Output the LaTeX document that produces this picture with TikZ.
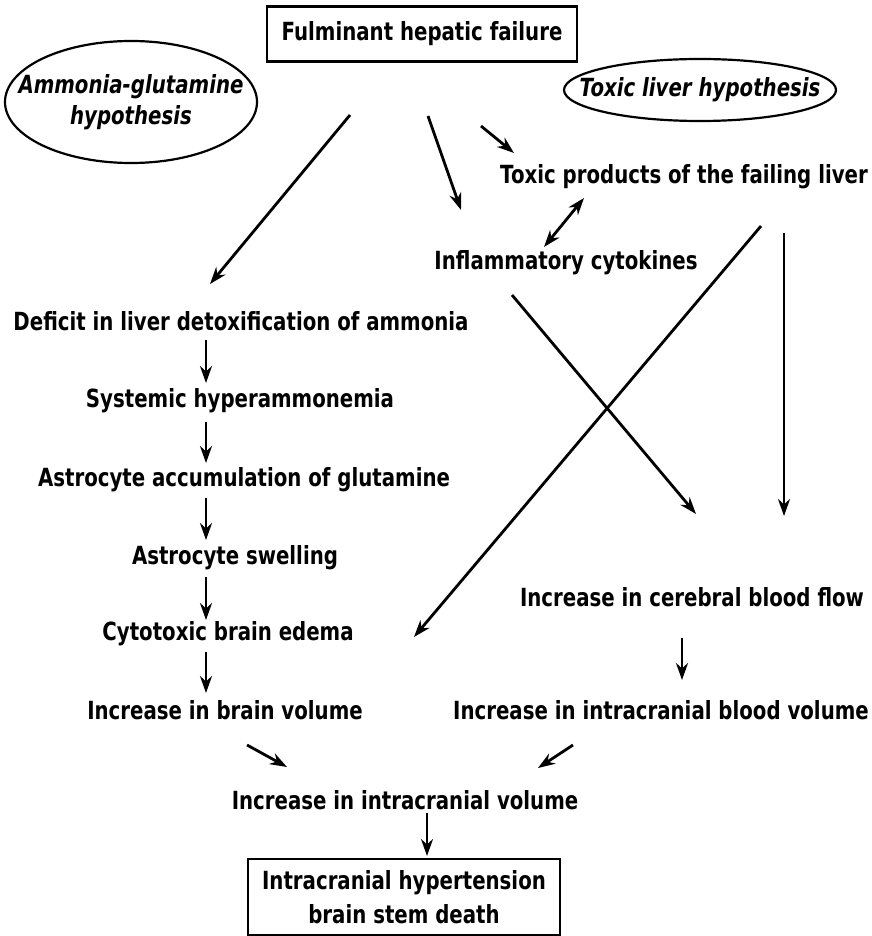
\documentclass[tikz,border=0pt]{standalone}
\usepackage{fontspec}
\setmainfont{DejaVu Sans}[FakeStretch=0.79]
\newfontfamily\hypfont{DejaVu Sans}[FakeStretch=0.79]
\usetikzlibrary{arrows.meta,shapes.geometric}
\begin{document}
\begin{tikzpicture}[x=1pt,y=-1pt,
  lbl/.style={font=\fontsize{25}{34}\selectfont\bfseries, inner sep=0pt},
  boxed/.style={lbl, draw, line width=2.6pt, align=center},
  hyp/.style={font=\hypfont\fontsize{25}{31}\selectfont\bfseries\itshape, inner sep=0pt, align=center},
  oval/.style={line width=2.2pt},
  arr/.style={line width=2.8pt, -{Stealth[length=17pt,width=12pt]}},
  darr/.style={line width=2.8pt, {Stealth[length=17pt,width=12pt]}-{Stealth[length=17pt,width=12pt]}}]
\useasboundingbox (0,0) rectangle (871,936);

\node[boxed, minimum width=310pt, minimum height=55pt] (fhf) at (422,34) {Fulminant hepatic failure};
\node[hyp] (amh) at (131,102) {Ammonia-glutamine\\hypothesis};
\draw[oval] (amh.center) ellipse [x radius=126, y radius=61];
\node[hyp] (tlh) at (700,90) {Toxic liver hypothesis};
\draw[oval] (tlh.center) ellipse [x radius=136, y radius=31];

\node[lbl] (tox) at (684,177) {Toxic products of the failing liver};
\node[lbl] (infl) at (566,263) {Inflammatory cytokines};
\node[lbl] (deficit) at (241,321) {Deficit in liver detoxification of ammonia};
\node[lbl] (systemic) at (240,401) {Systemic hyperammonemia};
\node[lbl] (accum) at (244,480) {Astrocyte accumulation of glutamine};
\node[lbl] (swell) at (235,558) {Astrocyte swelling};
\node[lbl] (cyto) at (228,634) {Cytotoxic brain edema};
\node[lbl] (brainvol) at (225,710) {Increase in brain volume};
\node[lbl] (cbf) at (692,597) {Increase in cerebral blood flow};
\node[lbl] (icbv) at (661,710) {Increase in intracranial blood volume};
\node[lbl] (icv) at (405,800) {Increase in intracranial volume};
\node[boxed, minimum width=312pt, minimum height=76pt] (death) at (404,897) {Intracranial hypertension\\brain stem death};

% arrow end points
\coordinate (a1s) at (350,115); \coordinate (a1e) at (210,284);
\coordinate (a2s) at (428,116); \coordinate (a2e) at (461,210);
\coordinate (a3s) at (481,126); \coordinate (a3e) at (514,153);
\coordinate (d1) at (544,247); \coordinate (d2) at (584,198);
\coordinate (x1s) at (761,226); \coordinate (x1e) at (414,637);
\coordinate (vs) at (784,233); \coordinate (ve) at (784,516);
\coordinate (x2s) at (512,295); \coordinate (x2e) at (696,514);
\coordinate (l1s) at (206,340); \coordinate (l1e) at (206,383);
\coordinate (l2s) at (206,422); \coordinate (l2e) at (206,463);
\coordinate (l3s) at (206,498); \coordinate (l3e) at (206,540);
\coordinate (l4s) at (206,577); \coordinate (l4e) at (206,620);
\coordinate (l5s) at (206,652); \coordinate (l5e) at (206,693);
\coordinate (r1s) at (682,638); \coordinate (r1e) at (682,680);
\coordinate (dls) at (247,745); \coordinate (dle) at (287,767);
\coordinate (drs) at (573,745); \coordinate (dre) at (538,768);
\coordinate (bs) at (427,813); \coordinate (be) at (427,856);

\draw[arr] (a1s) -- (a1e);
\draw[arr] (a2s) -- (a2e);
\draw[arr] (a3s) -- (a3e);
\draw[darr] (d1) -- (d2);
\draw[arr] (x1s) -- (x1e);
\draw[arr] (vs) -- (ve);
\draw[arr] (x2s) -- (x2e);
\draw[arr] (l1s) -- (l1e);
\draw[arr] (l2s) -- (l2e);
\draw[arr] (l3s) -- (l3e);
\draw[arr] (l4s) -- (l4e);
\draw[arr] (l5s) -- (l5e);
\draw[arr] (r1s) -- (r1e);
\draw[arr] (dls) -- (dle);
\draw[arr] (drs) -- (dre);
\draw[arr] (bs) -- (be);
\end{tikzpicture}
\end{document}
